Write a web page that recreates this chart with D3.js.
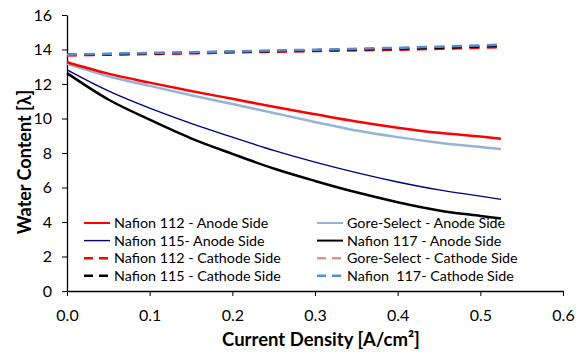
<!DOCTYPE html>
<html>
<head>
<meta charset="utf-8">
<script src="https://cdn.jsdelivr.net/npm/d3@7"></script>
<style>
  body { margin: 0; background: #fff; }
  text { font-family: Lato, "Open Sans", sans-serif; fill: #000; }
</style>
</head>
<body>
<div id="chart"></div>
<script>
// current density values [A/cm2]
const density = [0, 0.05, 0.1, 0.15, 0.2, 0.25, 0.3, 0.35, 0.4, 0.45, 0.5, 0.525];

// water content per membrane / side
const nafion112Anode = [13.26, 12.6, 12.08, 11.6, 11.14, 10.68, 10.25, 9.83, 9.47, 9.17, 8.95, 8.83];
const goreAnode = [13.17, 12.45, 11.89, 11.35, 10.84, 10.32, 9.8, 9.3, 8.92, 8.6, 8.35, 8.23];
const nafion115Anode = [12.82, 11.6, 10.6, 9.72, 8.92, 8.15, 7.47, 6.86, 6.32, 5.86, 5.5, 5.31];
const nafion117Anode = [12.63, 11.1, 9.93, 8.85, 7.95, 7.1, 6.38, 5.72, 5.15, 4.67, 4.35, 4.2];
const nafion112Cathode = [13.66, 13.7, 13.74, 13.78, 13.83, 13.87, 13.91, 13.95, 13.99, 14.04, 14.11, 14.14];
const goreCathode = [13.67, 13.71, 13.75, 13.8, 13.85, 13.89, 13.93, 13.97, 14.02, 14.07, 14.14, 14.17];
const nafion115Cathode = [13.69, 13.73, 13.78, 13.82, 13.87, 13.91, 13.96, 14.0, 14.05, 14.1, 14.18, 14.22];
const nafion117Cathode = [13.7, 13.75, 13.8, 13.84, 13.89, 13.94, 13.99, 14.04, 14.1, 14.16, 14.24, 14.28];

const xTicks = [0, 0.1, 0.2, 0.3, 0.4, 0.5, 0.6];
const yTicks = [0, 2, 4, 6, 8, 10, 12, 14, 16];

const series = [
  {name: "Nafion 112 - Anode Side", values: nafion112Anode, color: "#ff0000", width: 2.5, dash: null},
  {name: "Nafion 115- Anode Side", values: nafion115Anode, color: "#000080", width: 1.4, dash: null},
  {name: "Nafion 112 - Cathode Side", values: nafion112Cathode, color: "#ff0000", width: 2.5, dash: "10,7.5"},
  {name: "Nafion 115 - Cathode Side", values: nafion115Cathode, color: "#000000", width: 2.5, dash: "10,7.5"},
  {name: "Gore-Select - Anode Side", values: goreAnode, color: "#95b3d7", width: 2.5, dash: null},
  {name: "Nafion 117 - Anode Side", values: nafion117Anode, color: "#000000", width: 2.5, dash: null},
  {name: "Gore-Select - Cathode Side", values: goreCathode, color: "#d99694", width: 2.5, dash: "10,7.5"},
  {name: "Nafion  117- Cathode Side", values: nafion117Cathode, color: "#558ed5", width: 2.5, dash: "10,7.5"}
];

// drawing order (front-most last)
const drawOrder = [6, 2, 3, 7, 1, 5, 4, 0];

const margin = {top: 15, right: 23, bottom: 65, left: 67};
const width = 586 - margin.left - margin.right;
const height = 356 - margin.top - margin.bottom;

const svg = d3.select("#chart").append("svg")
  .attr("width", 586)
  .attr("height", 356)
  .append("g")
  .attr("transform", "translate(" + margin.left + "," + margin.top + ")");

const x = d3.scaleLinear().domain([0, 0.6]).range([0, width]);
const y = d3.scaleLinear().domain([0, 16]).range([height, 0]);

// axes
const xAxis = svg.append("g")
  .attr("transform", "translate(0," + height + ")")
  .call(d3.axisBottom(x).tickValues(xTicks).tickFormat(d3.format(".1f")).tickSizeInner(5).tickSizeOuter(0).tickPadding(14));
const yAxis = svg.append("g")
  .call(d3.axisLeft(y).tickValues(yTicks).tickSizeInner(5).tickSizeOuter(0).tickPadding(10));

[xAxis, yAxis].forEach(function (g) {
  g.select(".domain").attr("stroke", "#000").attr("stroke-width", 1.3);
  g.selectAll(".tick line").attr("stroke", "#000").attr("stroke-width", 1);
  g.selectAll(".tick text").style("font-size", "16px").attr("fill", "#000");
});

// lines
const line = d3.line()
  .curve(d3.curveMonotoneX)
  .x((d, i) => x(density[i]))
  .y(d => y(d));

drawOrder.forEach(function (k) {
  const s = series[k];
  svg.append("path")
    .datum(s.values)
    .attr("fill", "none")
    .attr("stroke", s.color)
    .attr("stroke-width", s.width)
    .attr("stroke-dasharray", s.dash)
    .attr("d", line);
});

// legend
const legend = svg.append("g");
series.forEach(function (s, i) {
  const col = Math.floor(i / 4), row = i % 4;
  const g = legend.append("g")
    .attr("transform", "translate(" + (17 + col * 233) + "," + (208 + row * 17.6) + ")");
  g.append("line")
    .attr("x1", 0).attr("x2", 26)
    .attr("stroke", s.color)
    .attr("stroke-width", s.dash ? 2.5 : Math.max(s.width - 0.5, 1.4))
    .attr("stroke-dasharray", s.dash ? "9,6" : null);
  g.append("text")
    .attr("x", 30)
    .attr("dy", "0.35em")
    .style("font-size", "14.3px")
    .style("white-space", "pre")
    .text(s.name);
});

// axis titles
svg.append("text")
  .attr("transform", "translate(" + (-36) + "," + 147 + ") rotate(-90)")
  .attr("text-anchor", "middle")
  .style("font-size", "18px")
  .style("font-weight", "bold")
  .text("Water Content [λ]");

svg.append("text")
  .attr("x", 254)
  .attr("y", height + 55)
  .attr("text-anchor", "middle")
  .style("font-size", "18.5px")
  .style("font-weight", "bold")
  .text("Current Density [A/cm²]");
</script>
</body>
</html>
